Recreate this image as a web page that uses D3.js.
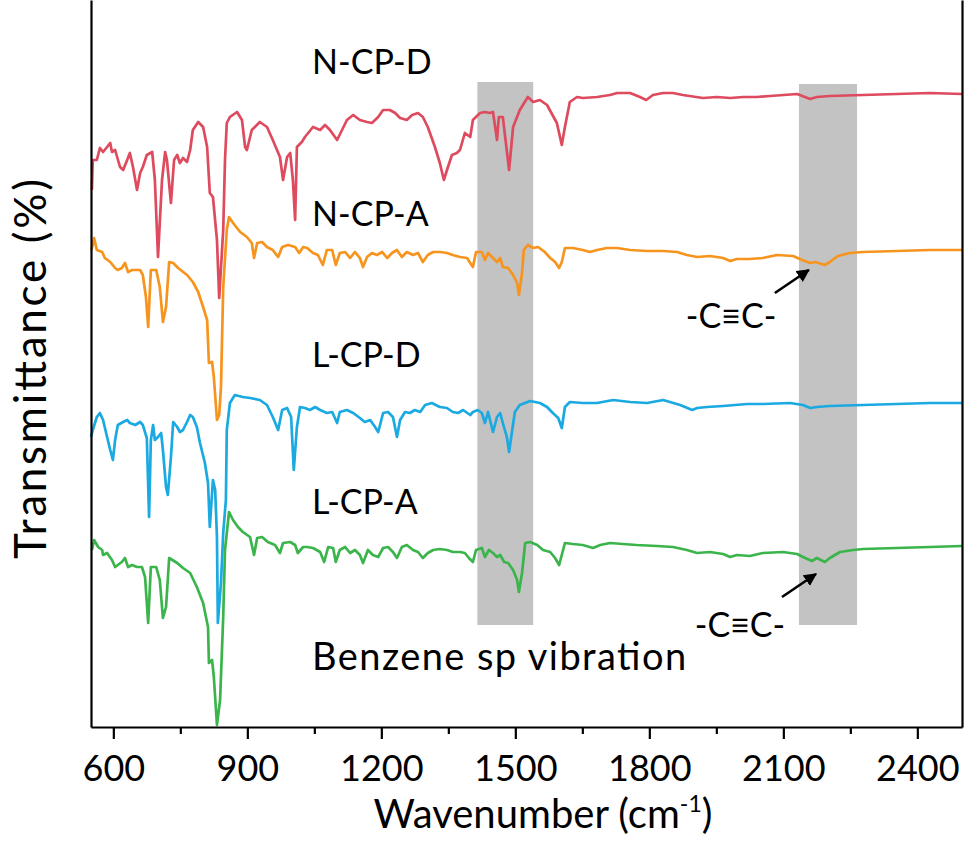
<!DOCTYPE html>
<html><head><meta charset="utf-8">
<script src="https://cdn.jsdelivr.net/npm/d3@7"></script>
<style>
html,body{margin:0;padding:0;background:#fff;}
svg text{font-family:Lato,"Open Sans",sans-serif;fill:#000;}
</style></head>
<body><svg id="chart" width="966" height="843"></svg>
<script>
// ---- data: [wavenumber (cm-1), transmittance (offset, arbitrary units)] ----
const seriesNames = ["N-CP-D", "N-CP-A", "L-CP-D", "L-CP-A"];
const seriesColors = ["#de4a5e", "#f7941d", "#1ba9e1", "#3bb54b"];

const ncpD = [[552,537],[554,567],[563,567],[570,579],[577,575],[586,580],[593,584],[597,575],[604,577],[615,560],[622,557],[631,567],[637,574],[644,560],[653,537],[660,554],[666,560],[675,572],[687,575],[693,547],[700,470],[709,547],[716,575],[720,567],[729,524],[736,567],[743,572],[749,564],[756,569],[765,565],[772,577],[778,597],[790,605],[801,600],[810,580],[816,534],[823,530],[832,487],[837,429],[846,497],[850,567],[854,604],[861,610],[877,615],[888,607],[895,580],[899,577],[910,597],[928,605],[944,600],[957,587],[973,570],[980,547],[989,570],[996,574],[1002,547],[1007,507],[1011,580],[1022,585],[1029,590],[1047,600],[1063,597],[1074,602],[1085,597],[1101,587],[1112,597],[1123,607],[1137,612],[1152,607],[1168,605],[1179,604],[1193,610],[1204,617],[1219,617],[1231,614],[1242,609],[1257,607],[1269,612],[1282,614],[1293,610],[1304,600],[1320,580],[1331,564],[1340,547],[1347,557],[1358,572],[1369,574],[1376,577],[1387,594],[1399,590],[1405,607],[1421,614],[1432,615],[1443,614],[1450,615],[1459,587],[1463,610],[1472,610],[1486,557],[1495,600],[1510,617],[1528,630],[1540,625],[1555,627],[1571,622],[1593,604],[1604,582],[1611,600],[1622,625],[1638,630],[1651,629],[1683,630],[1712,632],[1728,634],[1757,634],[1779,630],[1793,627],[1808,632],[1831,634],[1853,634],[1875,632],[1920,629],[1951,630],[1981,629],[2010,630],[2041,630],[2070,631],[2131,633],[2160,628],[2175,630],[2204,631],[2278,632],[2354,633],[2428,634],[2500,633]];

const ncpA = [[551,477],[557,489],[563,477],[575,475],[581,469],[593,465],[604,459],[610,457],[619,459],[626,464],[633,455],[642,457],[649,457],[660,457],[666,452],[673,430],[678,400],[684,457],[696,457],[704,440],[711,405],[718,420],[725,465],[734,464],[745,459],[765,452],[778,445],[790,435],[801,420],[810,407],[814,364],[821,365],[825,350],[832,307],[837,312],[841,340],[846,440],[854,497],[859,510],[868,504],[884,495],[899,490],[910,484],[915,469],[922,484],[933,485],[944,480],[957,477],[969,470],[978,480],[991,482],[1007,480],[1016,474],[1025,480],[1034,479],[1047,474],[1058,472],[1069,462],[1078,477],[1090,477],[1098,462],[1107,474],[1119,475],[1130,469],[1141,475],[1152,469],[1159,460],[1168,470],[1179,474],[1190,472],[1202,475],[1213,469],[1224,474],[1235,477],[1246,470],[1257,475],[1271,472],[1282,474],[1293,465],[1304,472],[1316,475],[1331,475],[1347,474],[1360,472],[1376,470],[1392,469],[1399,464],[1405,460],[1412,475],[1425,475],[1432,467],[1439,474],[1450,469],[1459,465],[1466,469],[1472,460],[1484,459],[1495,452],[1504,444],[1508,432],[1515,454],[1519,477],[1528,482],[1540,479],[1551,480],[1566,475],[1578,469],[1589,465],[1598,459],[1604,465],[1611,479],[1629,479],[1651,477],[1667,475],[1683,477],[1705,479],[1728,479],[1757,477],[1795,476],[1831,476],[1862,475],[1884,472],[1907,470],[1936,471],[1965,469],[1981,466],[1996,468],[2025,468],[2054,469],[2086,472],[2122,471],[2142,467],[2160,464],[2171,465],[2193,462],[2204,465],[2222,471],[2249,474],[2278,475],[2354,476],[2428,477],[2500,477]];

const lcpD = [[550,290],[554,297],[563,310],[570,314],[577,307],[586,290],[593,277],[599,267],[604,287],[610,302],[622,305],[631,307],[637,304],[649,302],[660,305],[666,302],[675,289],[680,210],[684,287],[689,302],[693,287],[700,290],[707,294],[711,277],[718,240],[722,232],[729,270],[734,305],[743,300],[749,295],[756,297],[765,305],[772,312],[778,310],[787,300],[794,284],[805,264],[812,244],[816,200],[823,247],[828,237],[832,190],[834,104],[841,144],[846,194],[852,227],[854,297],[861,324],[872,332],[890,330],[906,329],[928,327],[944,322],[957,310],[969,297],[978,317],[989,319],[998,310],[1004,257],[1011,300],[1018,320],[1029,319],[1040,317],[1052,320],[1063,317],[1078,314],[1090,315],[1101,304],[1107,315],[1123,317],[1137,314],[1152,309],[1163,305],[1175,307],[1186,300],[1193,295],[1204,314],[1215,315],[1226,310],[1235,290],[1242,307],[1253,315],[1264,314],[1275,317],[1287,315],[1298,322],[1313,324],[1331,320],[1347,319],[1360,315],[1372,314],[1383,317],[1399,312],[1405,315],[1416,317],[1425,314],[1432,304],[1439,315],[1450,295],[1459,310],[1466,314],[1472,304],[1481,290],[1486,275],[1493,297],[1499,315],[1510,322],[1533,326],[1555,324],[1571,320],[1584,314],[1596,309],[1604,299],[1611,320],[1622,325],[1651,324],[1683,324],[1719,327],[1757,325],[1795,324],[1831,327],[1869,322],[1896,317],[1907,319],[1929,320],[1965,321],[2019,323],[2054,323],[2115,324],[2144,322],[2160,319],[2175,320],[2204,321],[2278,322],[2354,323],[2428,324],[2500,324]];

const lcpA = [[552,177],[557,187],[566,180],[575,177],[577,172],[586,174],[597,167],[604,160],[610,162],[619,165],[626,169],[633,160],[642,162],[653,160],[664,160],[671,150],[678,104],[684,160],[696,160],[704,147],[711,109],[718,120],[725,169],[743,164],[756,159],[772,154],[787,140],[801,124],[812,100],[814,64],[821,67],[825,50],[832,2],[839,27],[846,110],[850,177],[859,215],[868,207],[879,200],[890,195],[906,190],[915,172],[922,189],[933,190],[946,185],[962,182],[973,174],[980,184],[996,185],[1007,182],[1013,174],[1025,180],[1034,180],[1047,179],[1063,175],[1072,165],[1081,180],[1092,179],[1098,165],[1107,177],[1119,180],[1130,174],[1141,177],[1152,172],[1159,164],[1170,177],[1181,172],[1193,170],[1204,179],[1215,180],[1226,175],[1235,169],[1246,180],[1257,182],[1271,177],[1282,175],[1293,169],[1304,174],[1316,177],[1331,178],[1347,177],[1360,175],[1376,175],[1387,174],[1396,169],[1405,165],[1412,177],[1425,179],[1432,170],[1441,177],[1450,174],[1459,170],[1466,172],[1475,165],[1484,164],[1495,157],[1504,147],[1508,135],[1515,154],[1522,184],[1533,185],[1549,182],[1562,177],[1578,175],[1589,169],[1598,162],[1604,172],[1611,184],[1629,183],[1651,182],[1674,179],[1690,182],[1712,184],[1741,183],[1772,182],[1817,181],[1853,180],[1884,177],[1907,174],[1936,175],[1965,173],[1981,170],[1996,172],[2025,171],[2054,174],[2099,175],[2131,173],[2144,170],[2164,166],[2175,169],[2193,165],[2204,169],[2227,175],[2256,177],[2278,178],[2354,179],[2428,180],[2500,181]];

const seriesData = [ncpD, ncpA, lcpD, lcpA];

// label positions in data units [wavenumber, transmittance]
const seriesLabelPos = [[1045, 653], [1045, 501], [1045, 360], [1045, 213]];
const bands = [[1415, 1540, 102, 645], [2135, 2265, 102, 643]];
const bandLabel = "Benzene sp vibration";
const bandLabelPos = [1045, 57];
const alkyneLabel = "-C\u2261C-";
const arrows = [ // [fromWn, fromT, toWn, toT, labelWn, labelT]
  [2081, 434, 2157, 457, 1983, 399],
  [2097, 130, 2173, 153, 2003, 90]
];
const xTicks = [600, 900, 1200, 1500, 1800, 2100, 2400];
const xMinorTicks = [750, 1050, 1350, 1650, 1950, 2250];
const xDomain = [550, 2500];
const yDomain = [0, 727];

// ---- layout ----
const W = 966, H = 843;
const m = {left: 91, right: 4, top: 0, bottom: 116};
const svg = d3.select("#chart");
const x = d3.scaleLinear().domain(xDomain).range([m.left, W - m.right]);
const y = d3.scaleLinear().domain(yDomain).range([H - m.bottom, m.top]);

// bands
svg.append("g").selectAll("rect").data(bands).join("rect")
  .attr("x", d => x(d[0])).attr("width", d => x(d[1]) - x(d[0]))
  .attr("y", d => y(d[3])).attr("height", d => y(d[2]) - y(d[3]))
  .attr("fill", "#c3c3c3");

// lines
const line = d3.line().x(d => x(d[0])).y(d => y(d[1]));
svg.append("g").selectAll("path").data(seriesData).join("path")
  .attr("d", line).attr("fill", "none")
  .attr("stroke", (d, i) => seriesColors[i])
  .attr("stroke-width", 2.7).attr("stroke-linejoin", "round");

// axes
const xAxis = d3.axisBottom(x).tickValues(xTicks).tickSize(12).tickSizeOuter(0)
  .tickPadding(16).tickFormat(d3.format("d"));
const gx = svg.append("g").attr("transform", `translate(0,${H - m.bottom})`).call(xAxis);
gx.select(".domain").attr("stroke-width", 2.2);
gx.selectAll(".tick line").attr("stroke-width", 2.2);
gx.selectAll(".tick text").attr("font-size", 36).attr("font-family", "Lato").attr("dy", "0.72em");
const gxm = svg.append("g").attr("transform", `translate(0,${H - m.bottom})`)
  .call(d3.axisBottom(x).tickValues(xMinorTicks).tickSize(7).tickFormat(""));
gxm.select(".domain").remove();
gxm.selectAll(".tick line").attr("stroke-width", 2.2);

// left & right spines
const yAxisL = svg.append("g").attr("transform", `translate(${m.left},0)`)
  .call(d3.axisLeft(y).tickValues([]).tickSizeOuter(0));
yAxisL.select(".domain").attr("stroke-width", 2.2);
const yAxisR = svg.append("g").attr("transform", `translate(${W - m.right},0)`)
  .call(d3.axisRight(y).tickValues([]).tickSizeOuter(0));
yAxisR.select(".domain").attr("stroke-width", 2.2);

// series labels
svg.append("g").selectAll("text").data(seriesNames).join("text")
  .attr("x", (d, i) => x(seriesLabelPos[i][0])).attr("y", (d, i) => y(seriesLabelPos[i][1]))
  .attr("font-size", 34).text(d => d);
svg.append("text").attr("x", x(bandLabelPos[0])).attr("y", y(bandLabelPos[1]))
  .attr("font-size", 38).attr("textLength", 374).attr("lengthAdjust", "spacing").text(bandLabel);

// arrows
const defs = svg.append("defs");
defs.append("marker").attr("id", "ah").attr("viewBox", "0 0 10 10").attr("refX", 9).attr("refY", 5)
  .attr("markerWidth", 5).attr("markerHeight", 5).attr("orient", "auto")
  .append("path").attr("d", "M0,0L10,5L0,10z").attr("fill", "#000");
const ga = svg.append("g");
ga.selectAll("line").data(arrows).join("line")
  .attr("x1", d => x(d[0])).attr("y1", d => y(d[1]))
  .attr("x2", d => x(d[2])).attr("y2", d => y(d[3]))
  .attr("stroke", "#000").attr("stroke-width", 2.6).attr("marker-end", "url(#ah)");
ga.selectAll("text").data(arrows).join("text")
  .attr("x", d => x(d[4])).attr("y", d => y(d[5]))
  .attr("text-anchor", "middle").attr("font-size", 34).text(alkyneLabel);

// axis titles
const xt = svg.append("text").attr("x", 543).attr("y", 828)
  .attr("text-anchor", "middle").attr("font-size", 40);
xt.append("tspan").text("Wavenumber (cm");
xt.append("tspan").attr("font-size", 23).attr("dy", -16).text("-1");
xt.append("tspan").attr("dy", 16).text(")");
svg.append("text").attr("transform", `translate(46,369) rotate(-90)`)
  .attr("text-anchor", "middle").attr("font-size", 44)
  .attr("textLength", 380).attr("lengthAdjust", "spacing").text("Transmittance (%)");
</script></body></html>
